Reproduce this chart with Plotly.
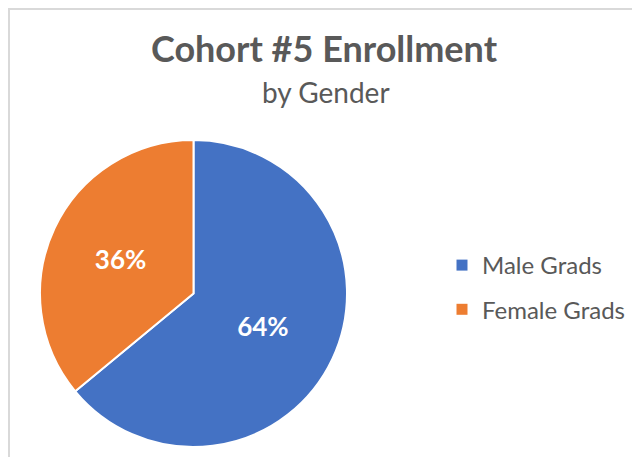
import plotly.graph_objects as go

labels = ["Male Grads", "Female Grads"]
values = [64, 36]
colors = ["#4472C4", "#ED7D31"]
title_text = "Cohort #5 Enrollment"
subtitle_text = "by Gender"

W, H = 640, 457
FONT = "Lato, Carlito, Calibri, sans-serif"
GRAY = "#595959"

fig = go.Figure()

fig.add_trace(go.Pie(
    labels=labels, values=values, sort=False, direction="clockwise", rotation=0,
    marker=dict(colors=colors, line=dict(color="white", width=2)),
    texttemplate="%{percent:.0%}", textposition="inside",
    insidetextfont=dict(family=FONT, size=26, color="white", weight="bold"),
    showlegend=False,
    domain=dict(x=[31.5 / W, 339.5 / W], y=[1 - 439 / H, 1 - 132 / H]),
    hoverinfo="label+percent",
))

# legend entries (one group each so spacing can be set)
for lab, col in zip(labels, colors):
    fig.add_trace(go.Scatter(
        x=[None], y=[None], mode="markers", name=lab, legendgroup=lab,
        marker=dict(symbol="square", size=11, color=col),
    ))

fig.update_layout(
    width=W, height=H,
    margin=dict(l=0, r=0, t=0, b=0),
    paper_bgcolor="white", plot_bgcolor="white",
    font=dict(family=FONT, color=GRAY),
    title=dict(
        text="<b>" + title_text + "</b>",
        font=dict(family=FONT, size=36, color=GRAY),
        x=316 / W, xanchor="center", xref="paper",
        y=1 - 29 / H, yanchor="top", yref="container",
    ),
    annotations=[dict(
        text=subtitle_text, xref="paper", yref="paper",
        x=318 / W, xanchor="center", y=1 - 103 / H, yanchor="bottom",
        showarrow=False, font=dict(family=FONT, size=28, color=GRAY),
    )],
    xaxis=dict(visible=False), yaxis=dict(visible=False),
    legend=dict(
        x=434 / W, xanchor="left", y=1 - 235 / H, yanchor="top",
        font=dict(family=FONT, size=24, color=GRAY),
        tracegroupgap=10, traceorder="grouped",
        bgcolor="rgba(0,0,0,0)",
    ),
    shapes=[dict(
        type="rect", xref="paper", yref="paper",
        x0=1 / W, x1=1.05, y0=-0.05, y1=1 - 1 / H,
        line=dict(color="#d9d9d9", width=2), fillcolor="rgba(0,0,0,0)", layer="below",
    )],
)

fig.write_html("out.html")
